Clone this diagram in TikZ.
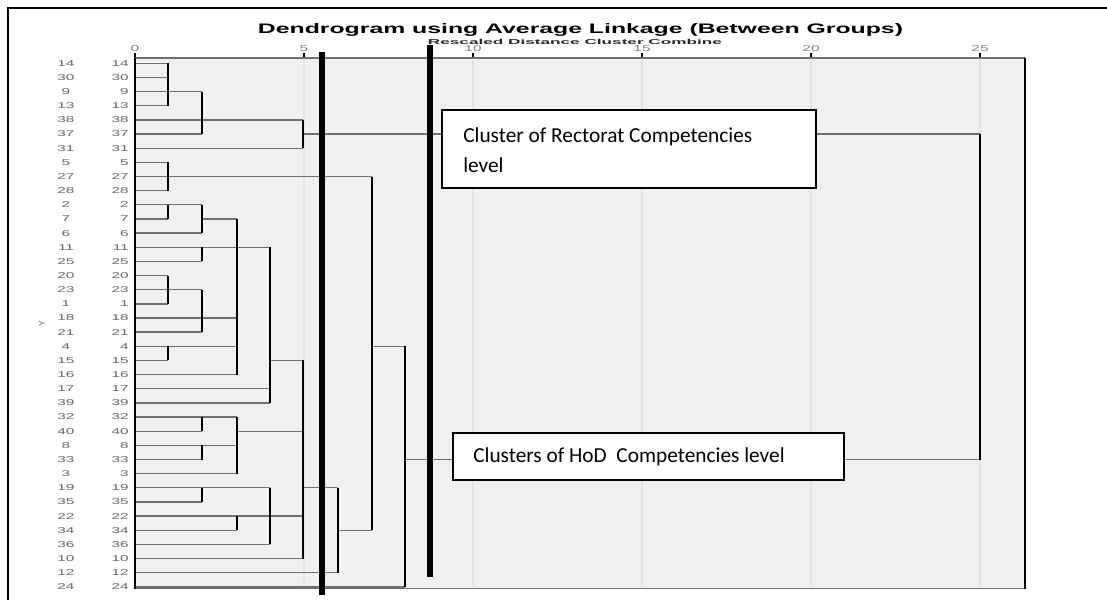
\documentclass[tikz,border=0pt]{standalone}
\usepackage{fontspec}
\setmainfont{Liberation Sans}
\newfontfamily\boxfont{Carlito}
\usepackage{graphicx}
\definecolor{plotbg}{HTML}{F0F0F0}
\definecolor{gridc}{HTML}{E2E2E2}
\definecolor{hline}{HTML}{707070}
\definecolor{lab}{HTML}{666666}
\newcommand\rowlab[1]{\scalebox{1.8}[1]{#1}}
\begin{document}
\begin{tikzpicture}[x=0.75pt,y=-0.75pt,
  hseg/.style={draw=hline, line width=1.0pt},
  vseg/.style={draw=black, line width=1.2pt},
  thickbar/.style={draw=black, line width=4.5pt},
  gridline/.style={draw=gridc, line width=1.6pt},
  lbl/.style={font=\fontsize{6.4}{6.4}\selectfont, text=lab, inner sep=0pt},
  cbox/.style={draw=black, line width=1.5pt, fill=white},
  boxtext/.style={font=\boxfont\fontsize{16}{22.5}\selectfont, inner sep=0pt, align=left}]
\useasboundingbox (0,0) rectangle (1107,600);
% outer frame (top and left edges visible)
\draw[line width=1.5pt] (8,600) -- (8,8) -- (1107,8);
% plot background
\fill[plotbg] (135,58) rectangle (1025,588);
% grid lines
\foreach \u in {5,10,15,20,25} \draw[gridline] ({135+33.8*\u},60) -- ({135+33.8*\u},586);
% title
\node[inner sep=0pt] (title) at (580.5,30) {\resizebox{483.75pt}{7.5pt}{\bfseries Dendrogram using Average Linkage (Between Groups)}};
\node[inner sep=0pt, text=black!85] (subtitle) at (575,41.5) {\resizebox{220.5pt}{3.9pt}{\bfseries Rescaled Distance Cluster Combine}};
% axis ticks and labels
\foreach \u in {0,5,10,15,20,25} {
  \draw[line width=1pt] ({135+33.8*\u},53) -- ({135+33.8*\u},59);
  \node[lbl, text=gray] (tick\u) at ({135+33.8*\u},49) {\rowlab{\u}};
}
% level coordinates
\coordinate (L1) at (168,0);
\coordinate (L2) at (202,0);
\coordinate (L3) at (237,0);
\coordinate (L4) at (270,0);
\coordinate (L5) at (303,0);
\coordinate (L6) at (338,0);
\coordinate (L7) at (372,0);
\coordinate (L8) at (405,0);
\coordinate (L25) at (980,0);
% rows and labels
\foreach \lab [count=\i from 0] in {14,30,9,13,38,37,31,5,27,28,2,7,6,11,25,20,23,1,18,21,4,15,16,17,39,32,40,8,33,3,19,35,22,34,36,10,12,24} {
  \coordinate (r\i) at (135,{63.3+14.15*\i});
  \node[lbl] (la\i) at (66,{63.3+14.15*\i}) {\rowlab{\lab}};
  \node[lbl, anchor=east] (lb\i) at (129,{63.3+14.15*\i}) {\rowlab{\lab}};
}
% horizontal segments from the cases
\foreach \r/\L in {0/L1,1/L1,2/L2,3/L1,4/L5,5/L2,6/L5,7/L1,8/L7,9/L1,10/L2,11/L1,12/L2,13/L4,14/L2,15/L1,16/L2,17/L1,18/L3,19/L2,20/L3,21/L1,22/L3,23/L4,24/L4,25/L3,26/L2,27/L3,28/L2,29/L3,30/L4,31/L2,32/L5,33/L3,34/L4,35/L5,36/L6,37/L8}
  \draw[hseg] (r\r) -- (r\r -| \L);
% horizontal joins between clusters
\draw[hseg] (r5 -| L5) -- (r5 -| L25);
\draw[hseg] (r11 -| L2) -- (r11 -| L3);
\draw[hseg] (r21 -| L4) -- (r21 -| L5);
\draw[hseg] (r26 -| L3) -- (r26 -| L5);
\draw[hseg] (r30 -| L5) -- (r30 -| L6);
\draw[hseg] (r33 -| L6) -- (r33 -| L7);
\draw[hseg] (r20 -| L7) -- (r20 -| L8);
\draw[hseg] (r28 -| L8) -- (r28 -| L25);
% vertical bars
\foreach \a/\b/\L in {0/3/L1,7/9/L1,10/11/L1,15/17/L1,20/21/L1,
  2/5/L2,10/12/L2,13/14/L2,16/19/L2,25/26/L2,27/28/L2,30/31/L2,
  11/22/L3,25/29/L3,32/33/L3,
  13/24/L4,30/34/L4,
  4/6/L5,21/35/L5,
  30/36/L6,8/33/L7,20/37/L8,5/28/L25}
  \draw[vseg] (r\a -| \L) -- (r\b -| \L);
% plot frame
\draw[hline, line width=1pt] (135,58) -- (1025,58);
\draw[hline, line width=1.2pt] (135,588.5) -- (1025,588.5);
\draw[black, line width=1pt] (1025,58) -- (1025,589);
\draw[black, line width=1.4pt] (135,58) -- (135,589);
% y label
\node[lbl, rotate=90] (ylab) at (42,324) {Y};
% thick cut lines
\coordinate (cutA1) at (322,52);
\coordinate (cutA2) at (322,595);
\coordinate (cutB1) at (430,45);
\coordinate (cutB2) at (430,577);
\draw[thickbar] (cutA1) -- (cutA2);
\draw[line width=3.8pt] (cutB1) -- (cutB2);
% annotation boxes
\draw[cbox] (442,110) rectangle (816,188);
\node[boxtext, anchor=north west] (rect) at (463,127) {Cluster of Rectorat Competencies\\level};
\draw[cbox] (453,433) rectangle (844,480);
\node[boxtext, anchor=west] (hod) at (473,457) {Clusters of HoD\ \ Competencies level};
\end{tikzpicture}
\end{document}
